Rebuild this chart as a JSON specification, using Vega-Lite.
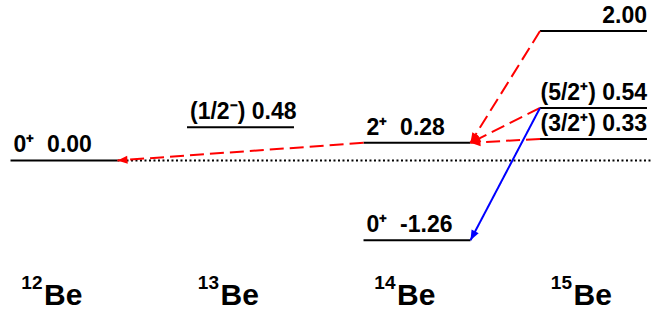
{
  "$schema": "https://vega.github.io/schema/vega-lite/v6.json",
  "width": 660,
  "height": 311,
  "autosize": {"type": "fit", "contains": "padding"},
  "padding": 0,
  "background": "white",
  "config": {
    "view": {"stroke": null},
    "text": {"font": "Liberation Sans", "fontWeight": "bold", "color": "black"}
  },
  "datasets": {
    "levels": [
      {"nucleus": "12Be", "col": 0, "E": "0.00", "pos": 0, "label": "0⁺\u00a0\u00a00.00"},
      {"nucleus": "13Be", "col": 1, "E": "0.48", "pos": 0.52, "label": "(1/2⁻) 0.48"},
      {"nucleus": "14Be", "col": 2, "E": "0.28", "pos": 0.275, "label": "2⁺\u00a0\u00a00.28"},
      {"nucleus": "14Be", "col": 2, "E": "-1.26", "pos": -1.245, "label": "0⁺\u00a0\u00a0-1.26"},
      {"nucleus": "15Be", "col": 3, "E": "2.00", "pos": 2.02, "label": "2.00"},
      {"nucleus": "15Be", "col": 3, "E": "0.54", "pos": 0.82, "label": "(5/2⁺) 0.54"},
      {"nucleus": "15Be", "col": 3, "E": "0.33", "pos": 0.337, "label": "(3/2⁺) 0.33"}
    ],
    "transitions": [
      {"from_col": 2, "from_pos": 0.275, "to_col": 0, "to_pos": 0, "path": "sequential"},
      {"from_col": 3, "from_pos": 2.02, "to_col": 2, "to_pos": 0.275, "path": "sequential"},
      {"from_col": 3, "from_pos": 0.82, "to_col": 2, "to_pos": 0.275, "path": "sequential"},
      {"from_col": 3, "from_pos": 0.337, "to_col": 2, "to_pos": 0.275, "path": "sequential"},
      {"from_col": 3, "from_pos": 0.82, "to_col": 2, "to_pos": -1.245, "path": "direct"}
    ],
    "nuclei": [
      {"col": 0, "mass": "12", "element": "Be"},
      {"col": 1, "mass": "13", "element": "Be"},
      {"col": 2, "mass": "14", "element": "Be"},
      {"col": 3, "mass": "15", "element": "Be"}
    ],
    "threshold": [
      {"E": 0, "x_start": 0.303, "x_end": 3.331}
    ]
  },
  "layer": [
    {
      "data": {"name": "threshold"},
      "mark": {"type": "rule", "color": "black", "strokeWidth": 1.8, "strokeDash": [2, 2.5]},
      "encoding": {
        "x": {"field": "x_start", "type": "quantitative", "scale": {"domain": [-0.3626, 3.3768], "nice": false, "zero": false}, "axis": null},
        "x2": {"field": "x_end"},
        "y": {"field": "E", "type": "quantitative", "scale": {"domain": [-2.333, 2.504], "nice": false, "zero": false}, "axis": null}
      }
    },
    {
      "data": {"name": "levels"},
      "transform": [
        {"calculate": "datum.col - 0.303", "as": "xl"},
        {"calculate": "datum.col + 0.303", "as": "xr"}
      ],
      "mark": {"type": "rule", "color": "black", "strokeWidth": 2},
      "encoding": {
        "x": {"field": "xl", "type": "quantitative", "axis": null},
        "x2": {"field": "xr"},
        "y": {"field": "pos", "type": "quantitative", "axis": null}
      }
    },
    {
      "data": {"name": "transitions"},
      "transform": [
        {"calculate": "datum.from_col - 0.303", "as": "xa"},
        {"calculate": "datum.to_col + 0.303", "as": "xb"}
      ],
      "mark": {"type": "rule", "strokeWidth": 2},
      "encoding": {
        "x": {"field": "xa", "type": "quantitative", "axis": null},
        "x2": {"field": "xb"},
        "y": {"field": "from_pos", "type": "quantitative", "axis": null},
        "y2": {"field": "to_pos"},
        "color": {"field": "path", "type": "nominal", "scale": {"domain": ["sequential", "direct"], "range": ["#ff0000", "#0000ff"]}, "legend": null},
        "strokeDash": {"field": "path", "type": "nominal", "scale": {"domain": ["sequential", "direct"], "range": [[14, 6], [1, 0]]}, "legend": null}
      }
    },
    {
      "data": {"name": "transitions"},
      "transform": [
        {"calculate": "datum.from_col - 0.303", "as": "xa"},
        {"calculate": "datum.to_col + 0.303", "as": "xb"},
        {"calculate": "atan2(-(datum.to_pos - datum.from_pos) * 64.3, (datum.xb - datum.xa) * 176.5) * 180 / PI", "as": "ang"}
      ],
      "mark": {"type": "point", "filled": true, "opacity": 1, "size": 100, "shape": "M0,0L-2,-0.8L-2,0.8Z", "strokeWidth": 0},
      "encoding": {
        "x": {"field": "xb", "type": "quantitative", "axis": null},
        "y": {"field": "to_pos", "type": "quantitative", "axis": null},
        "angle": {"field": "ang", "type": "quantitative", "scale": null},
        "color": {"field": "path", "type": "nominal", "scale": {"domain": ["sequential", "direct"], "range": ["#ff0000", "#0000ff"]}, "legend": null}
      }
    },
    {
      "data": {"name": "levels"},
      "transform": [
        {"filter": "datum.col < 3"},
        {"calculate": "datum.col - 0.303", "as": "xl"}
      ],
      "mark": {"type": "text", "align": "left", "baseline": "alphabetic", "dx": 3, "dy": -8, "fontSize": 23},
      "encoding": {
        "x": {"field": "xl", "type": "quantitative", "axis": null},
        "y": {"field": "pos", "type": "quantitative", "axis": null},
        "text": {"field": "label"}
      }
    },
    {
      "data": {"name": "levels"},
      "transform": [
        {"filter": "datum.col == 3"},
        {"calculate": "datum.col + 0.303", "as": "xr"}
      ],
      "mark": {"type": "text", "align": "right", "baseline": "alphabetic", "dx": 0, "dy": -8, "fontSize": 23},
      "encoding": {
        "x": {"field": "xr", "type": "quantitative", "axis": null},
        "y": {"field": "pos", "type": "quantitative", "axis": null},
        "text": {"field": "label"}
      }
    },
    {
      "data": {"name": "nuclei"},
      "mark": {"type": "text", "align": "left", "baseline": "alphabetic", "dx": -20, "fontSize": 30},
      "encoding": {
        "x": {"field": "col", "type": "quantitative", "axis": null},
        "y": {"datum": -2.255, "type": "quantitative", "axis": null},
        "text": {"field": "element"}
      }
    },
    {
      "data": {"name": "nuclei"},
      "mark": {"type": "text", "align": "right", "baseline": "alphabetic", "dx": -21.5, "dy": -16, "fontSize": 19},
      "encoding": {
        "x": {"field": "col", "type": "quantitative", "axis": null},
        "y": {"datum": -2.255, "type": "quantitative", "axis": null},
        "text": {"field": "mass"}
      }
    }
  ]
}
